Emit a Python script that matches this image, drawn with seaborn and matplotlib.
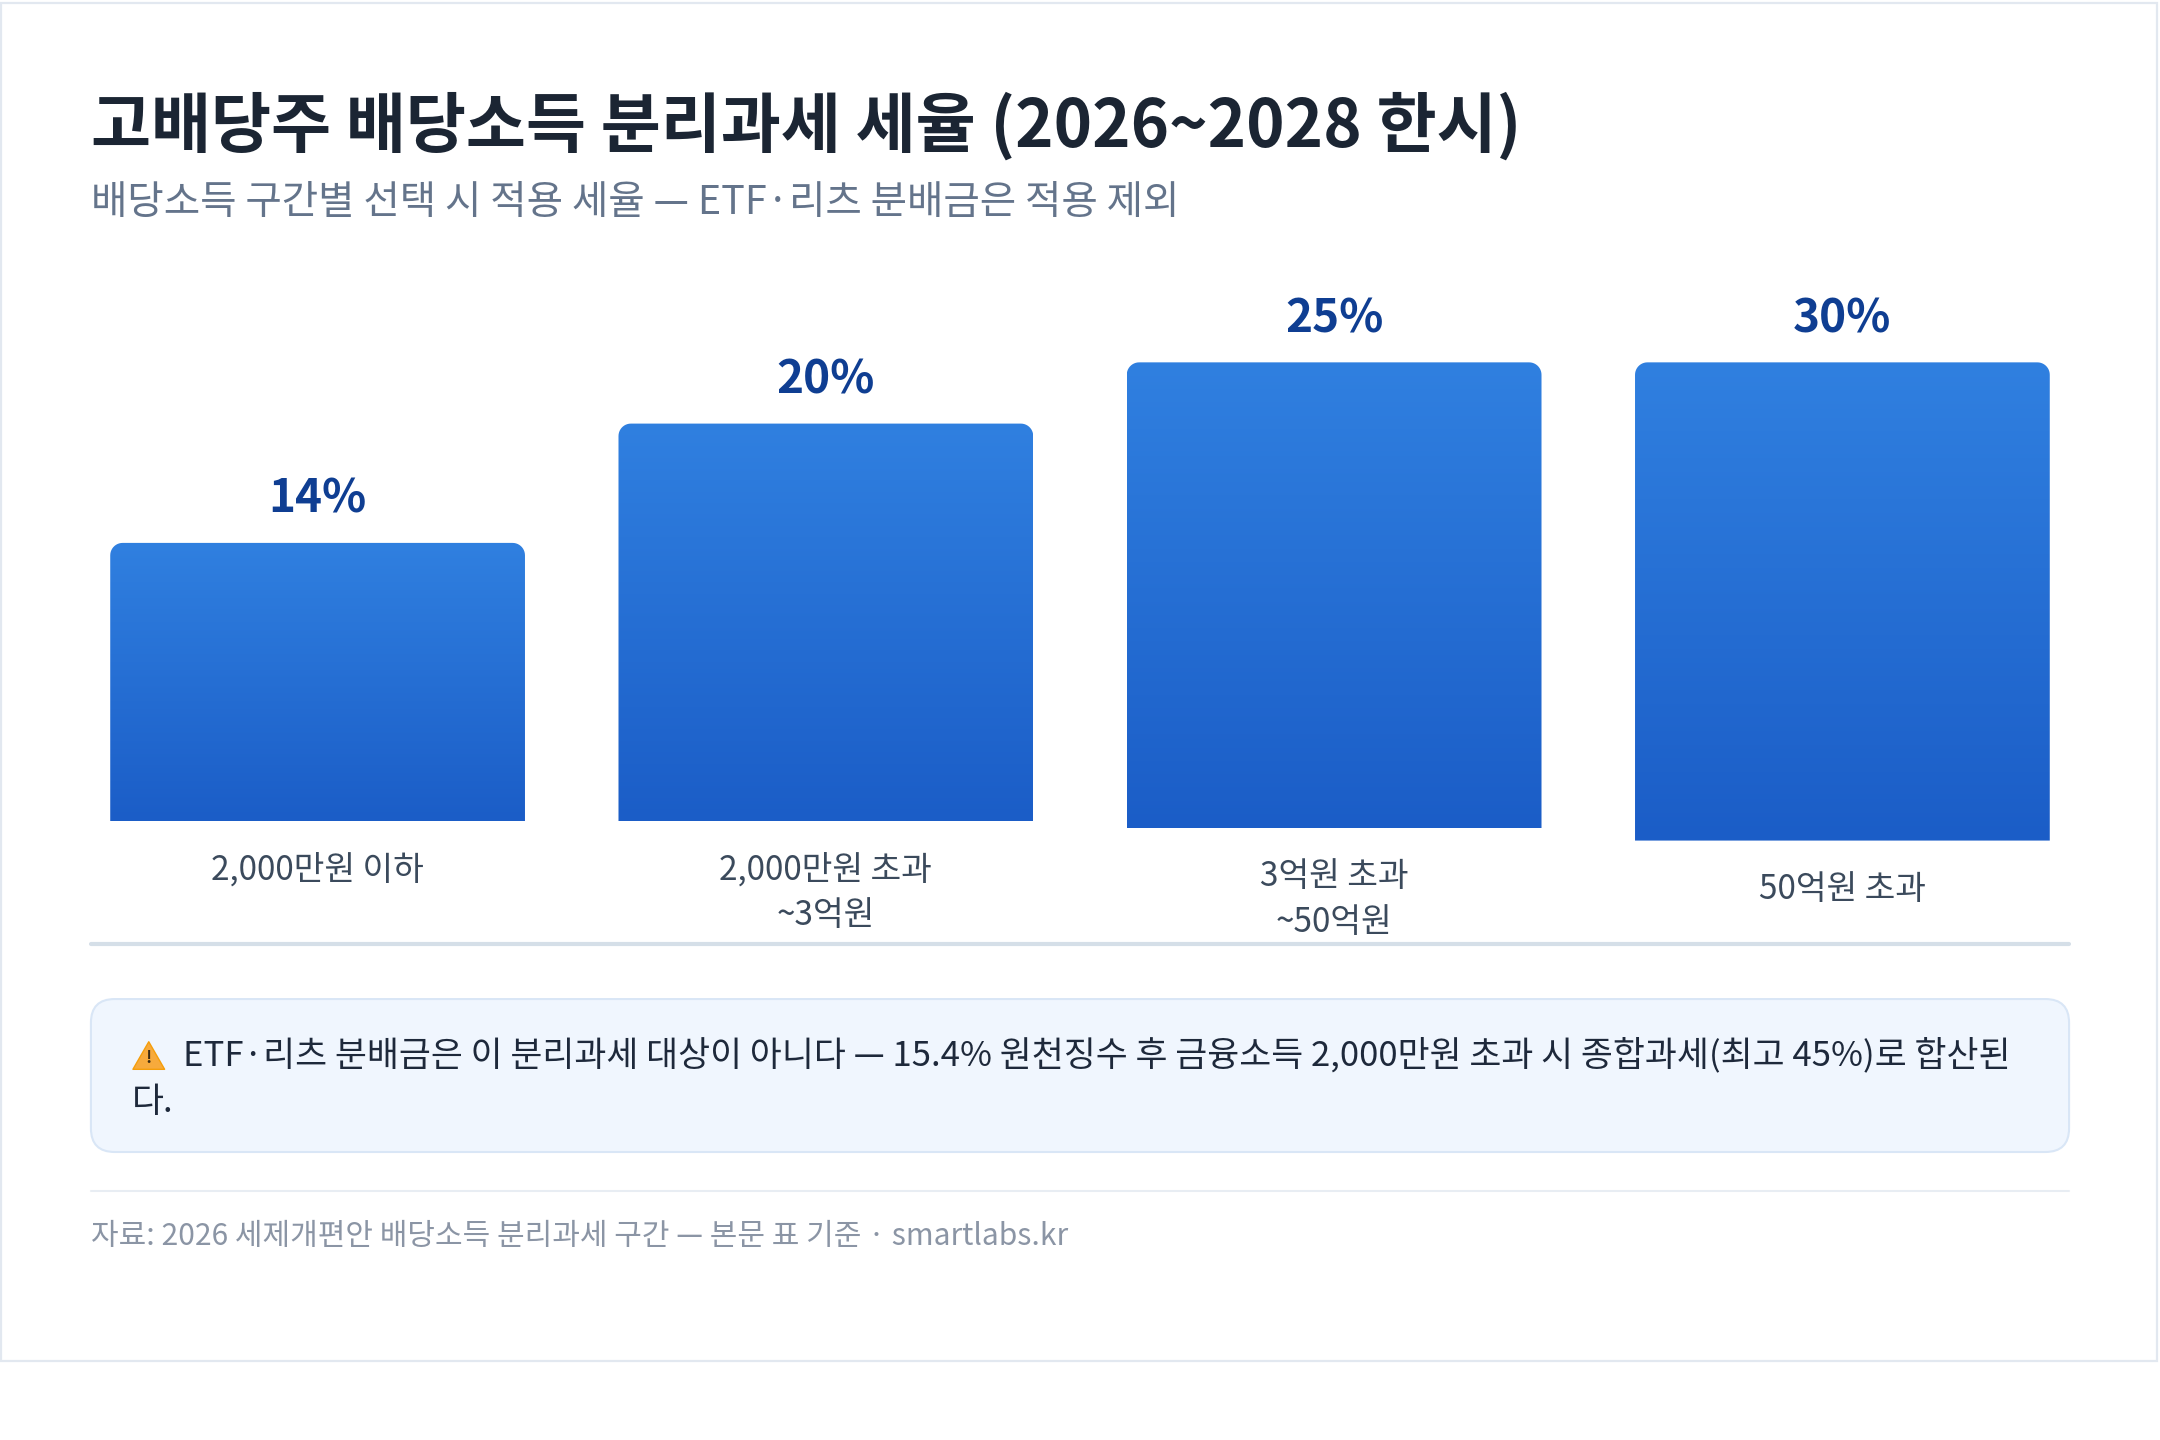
import numpy as np
import matplotlib
matplotlib.use("Agg")
import matplotlib.pyplot as plt
from matplotlib.patches import Rectangle, FancyBboxPatch, PathPatch, Polygon
from matplotlib.path import Path
from matplotlib.colors import LinearSegmentedColormap
import seaborn as sns

# data
categories = ["2,000만원 이하", "2,000만원 초과\n~3억원", "3억원 초과\n~50억원", "50억원 초과"]
rates = [14, 20, 25, 30]
rate_labels = ["14%", "20%", "25%", "30%"]
# drawn bar extent as it appears in the picture (the layout squeezes the tall bars)
bar_top = [14.0, 20.0, 23.08, 23.08]
bar_base = [0.0, 0.0, -0.35, -0.97]

title = "고배당주 배당소득 분리과세 세율 (2026~2028 한시)"
subtitle = "배당소득 구간별 선택 시 적용 세율 — ETF·리츠 분배금은 적용 제외"
note_lines = ["ETF·리츠 분배금은 이 분리과세 대상이 아니다 — 15.4% 원천징수 후 금융소득 2,000만원 초과 시 종합과세(최고 45%)로 합산된",
              "다."]
footer = "자료: 2026 세제개편안 배당소득 분리과세 구간 — 본문 표 기준 · smartlabs.kr"

sns.set_theme(style="white")
plt.rcParams['font.family'] = ['Noto Sans CJK KR', 'DejaVu Sans']

W, H = 1568.0, 1045.0  # layout grid


def F(x, y):
    return x / W, 1 - y / H


fig = plt.figure(figsize=(21.6, 14.4), dpi=100)
fig.patch.set_facecolor("white")

# card (behind everything)
x0, y0 = F(1, 988)
x1, y1 = F(1566, 2)
fig.patches.append(Rectangle((x0, y0), x1 - x0, y1 - y0, transform=fig.transFigure,
                             facecolor="white", edgecolor="#E2E8F0", lw=1.6, zorder=-5))

# bars axes
ax_l, ax_r, ax_t, ax_b = 66, 1502, 200, 700
px_per_unit = 14.43
ax = fig.add_axes([ax_l / W, 1 - ax_b / H, (ax_r - ax_l) / W, (ax_b - ax_t) / H])
ax.patch.set_alpha(0)

df = {"cat": categories, "top": bar_top}
sns.barplot(x=df["cat"], y=df["top"], ax=ax, width=0.816, color="#2A6FD6")
ax.set_xlim(-0.446, 3.446)
ax.set_ylim(-(ax_b - 596) / px_per_unit, (596 - ax_t) / px_per_unit)
ax.axis("off")

cmap = LinearSegmentedColormap.from_list("bar", ["#3080E0", "#1B5DC7"])
grad = np.linspace(0, 1, 256).reshape(-1, 1)
rx = 9 / 369.0
ry = 9 / px_per_unit

for i, p in enumerate(list(ax.patches)):
    xl = p.get_x()
    w = p.get_width()
    b = bar_base[i]
    t = bar_top[i]
    p.set_visible(False)
    th = np.linspace(0, np.pi / 2, 12)
    verts = [(xl, b), (xl + w, b)]
    # top right corner
    for a in th:
        verts.append((xl + w - rx + rx * np.cos(a), t - ry + ry * np.sin(a)))
    # top left corner
    for a in th:
        verts.append((xl + rx - rx * np.sin(a), t - ry + ry * np.cos(a)))
    verts.append((xl, b))
    path = Path(verts, closed=True)
    clip = PathPatch(path, transform=ax.transData, facecolor="none", edgecolor="none")
    ax.add_patch(clip)
    im = ax.imshow(grad, extent=(xl, xl + w, b, t), origin="upper", cmap=cmap,
                   aspect="auto", zorder=2)
    im.set_clip_path(clip)
    cx = xl + w / 2
    ax.annotate(rate_labels[i], xy=(cx, t), xytext=(0, 31), textcoords="offset points",
                ha="center", va="center", fontsize=33, fontweight="bold", color="#0F3E92")
    for j, line in enumerate(categories[i].split("\n")):
        ax.annotate(line, xy=(cx, b), xytext=(0, -35 - 33 * j), textcoords="offset points",
                    ha="center", va="center", fontsize=24, color="#3B4A5C")

# title and subtitle
fig.text(*F(66, 92), title, fontsize=47, fontweight="bold", color="#1B2533",
         ha="left", va="center")
fig.text(*F(66, 147), subtitle, fontsize=28.5, color="#64748B", ha="left", va="center")

# separator under bars
fig.add_artist(plt.Line2D([66 / W, 1502 / W], [1 - 685 / H] * 2, color="#D5DFE8", lw=3))

# note box
bx0, by0 = F(66, 836)
bx1, by1 = F(1502, 725)
fig.patches.append(FancyBboxPatch((bx0, by0), bx1 - bx0, by1 - by0,
                                  boxstyle="round,pad=0,rounding_size=0.011",
                                  transform=fig.transFigure, facecolor="#F0F6FE",
                                  edgecolor="#D9E6F6", lw=1.5, mutation_aspect=1.5))
tri = [F(108, 756), F(96.5, 776), F(119.5, 776)]
fig.patches.append(Polygon(tri, closed=True, transform=fig.transFigure,
                           facecolor="#F7AA3C", edgecolor="#F59E0B", lw=1, joinstyle="round"))
fig.text(*F(108, 768), "!", fontsize=12, fontweight="bold", color="#3A2A12",
         ha="center", va="center")
fig.text(*F(133, 766), note_lines[0], fontsize=25, color="#1E293B", ha="left", va="center")
fig.text(*F(96, 800), note_lines[1], fontsize=25, color="#1E293B", ha="left", va="center")

# footer rule and source
fig.add_artist(plt.Line2D([66 / W, 1502 / W], [1 - 864 / H] * 2, color="#E8EDF3", lw=1.5))
fig.text(*F(66, 897), footer, fontsize=21.6, color="#8B95A5", ha="left", va="center")

fig.savefig("out.png", dpi=100, facecolor="white")
